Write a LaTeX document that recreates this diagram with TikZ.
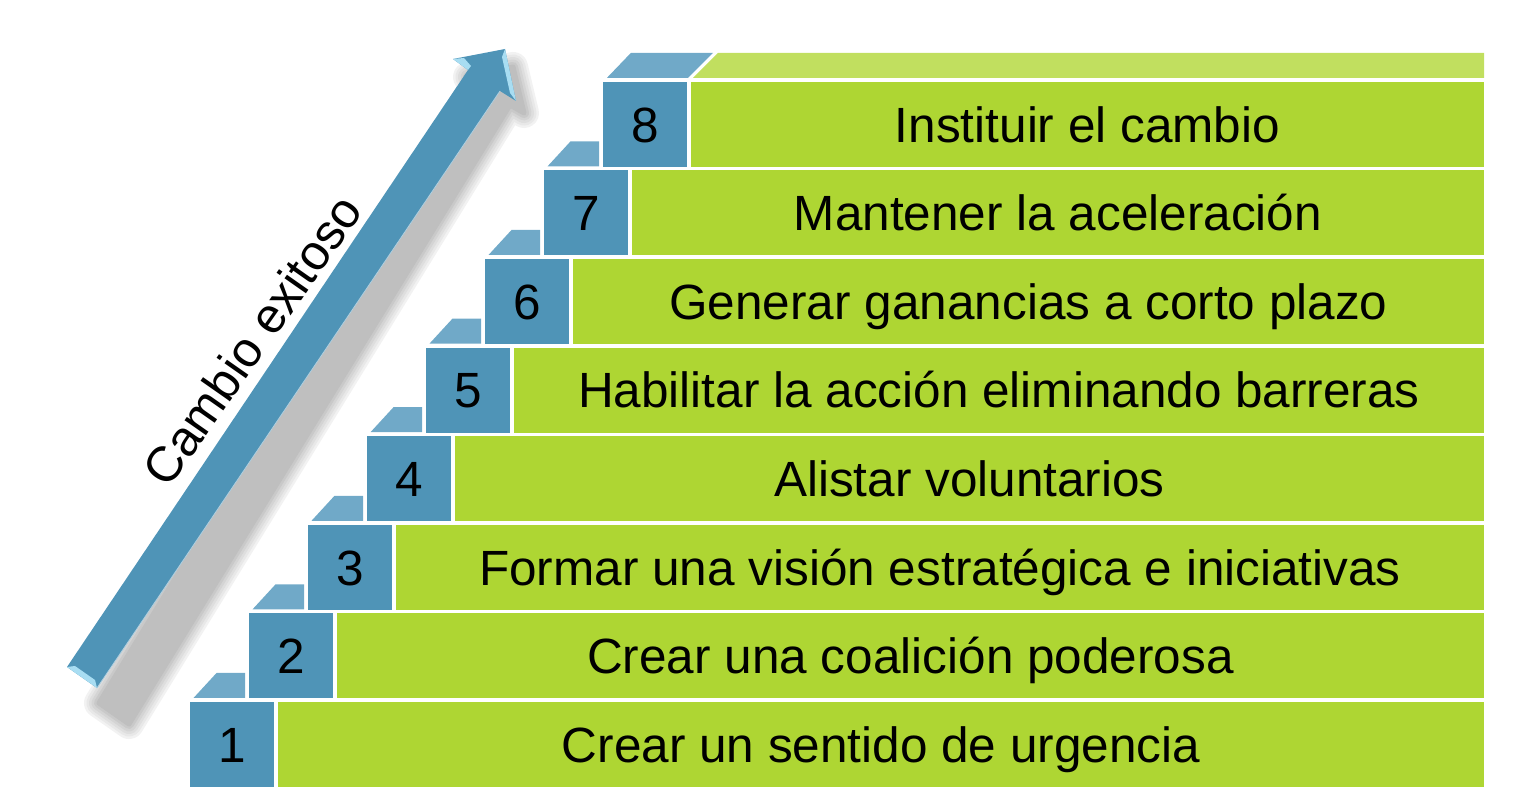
\documentclass[tikz,border=0pt]{standalone}
\usepackage{fontspec}
\setmainfont{Liberation Sans}
\definecolor{stepblue}{HTML}{4F94B7}
\definecolor{stepbluetop}{HTML}{70A9C8}
\definecolor{bargreen}{HTML}{AED633}
\definecolor{bargreentop}{HTML}{C1DF5F}
\definecolor{arrowlight}{HTML}{A8DDF2}
\tikzset{
	stepbox/.style={fill=stepblue, draw=none},
	stepface/.style={fill=stepbluetop, draw=none},
	bar/.style={fill=bargreen, draw=none},
	barface/.style={fill=bargreentop, draw=none},
	lbl/.style={inner sep=0pt, text height=35.5pt, text depth=0pt, font=\fontsize{49.5}{59}\selectfont}
}

\begin{document}
\begin{tikzpicture}[x=10pt, y=10pt]
		%%%%% START %%%%%
		\useasboundingbox (0, 0) rectangle (152.9, 80.6);
		
		% shadow of the arrow
		\foreach \w/\c in {30/5, 25/9, 20/13, 15/17, 10/21, 5/25}
			\draw[line width=\w pt, draw=black!\c, fill=black!\c, line join=round] (9.9, 10.3) -- (47.8, 72.2) -- (46.8, 72.9) -- (51.3, 73.9) -- (52.4, 69.3) -- (51.0, 70.1) -- (12.9, 8.2) -- cycle;
		
		% arrow
		\draw[fill=stepblue, draw=none] (6.7, 13.9) -- (46.8, 73.6) -- (45.3, 74.7) -- (50.5, 75.7) -- (51.6, 70.5) -- (50.0, 71.5) -- (9.7, 11.8) -- cycle;
		\draw[line width=0.8pt, color=white!55!stepblue] (9.7, 11.8) -- (50.0, 71.5);
		\fill[arrowlight] (6.7, 13.9) -- (9.7, 11.8) -- (9.5, 12.6) -- (7.5, 14.0) -- cycle;
		\fill[arrowlight] (50.5, 75.7) -- (51.6, 70.5) -- (51.0, 71.3) -- (50.2, 74.9) -- cycle;
		\fill[arrowlight] (45.3, 74.7) -- (46.8, 73.6) -- (47.1, 74.0) -- (46.4, 74.8) -- cycle;
		\node[lbl, rotate=55] (title) at (25.2, 46.6) {Cambio exitoso};
		
		% step 1
		\draw[stepface] (19.35, 10.80) -- (21.65, 13.30) -- (24.5, 13.30) -- (24.5, 10.80) -- cycle;
		\draw[stepbox] (19.0, 1.90) rectangle (27.4, 10.40);
		\draw[bar] (27.8, 1.90) rectangle (148.4, 10.40);
		\node[lbl] (n1) at (23.2, 6.15) {1};
		\node[lbl] (t1) at (88.1, 6.15) {Crear un sentido de urgencia};
		
		% step 2
		\draw[stepface] (25.25, 19.66) -- (27.55, 22.16) -- (30.4, 22.16) -- (30.4, 19.66) -- cycle;
		\draw[stepbox] (24.9, 10.76) rectangle (33.3, 19.26);
		\draw[bar] (33.7, 10.76) rectangle (148.4, 19.26);
		\node[lbl] (n2) at (29.1, 15.01) {2};
		\node[lbl] (t2) at (91.05, 15.01) {Crear una coalición poderosa};
		
		% step 3
		\draw[stepface] (31.15, 28.52) -- (33.45, 31.02) -- (36.3, 31.02) -- (36.3, 28.52) -- cycle;
		\draw[stepbox] (30.8, 19.62) rectangle (39.2, 28.12);
		\draw[bar] (39.6, 19.62) rectangle (148.4, 28.12);
		\node[lbl] (n3) at (35.0, 23.87) {3};
		\node[lbl] (t3) at (94.0, 23.87) {Formar una visión estratégica e iniciativas};
		
		% step 4
		\draw[stepface] (37.05, 37.38) -- (39.35, 39.88) -- (42.2, 39.88) -- (42.2, 37.38) -- cycle;
		\draw[stepbox] (36.7, 28.48) rectangle (45.1, 36.98);
		\draw[bar] (45.5, 28.48) rectangle (148.4, 36.98);
		\node[lbl] (n4) at (40.9, 32.73) {4};
		\node[lbl] (t4) at (96.95, 32.73) {Alistar voluntarios};
		
		% step 5
		\draw[stepface] (42.95, 46.24) -- (45.25, 48.74) -- (48.1, 48.74) -- (48.1, 46.24) -- cycle;
		\draw[stepbox] (42.6, 37.34) rectangle (51.0, 45.84);
		\draw[bar] (51.4, 37.34) rectangle (148.4, 45.84);
		\node[lbl] (n5) at (46.8, 41.59) {5};
		\node[lbl] (t5) at (99.9, 41.59) {Habilitar la acción eliminando barreras};
		
		% step 6
		\draw[stepface] (48.85, 55.10) -- (51.15, 57.60) -- (54.0, 57.60) -- (54.0, 55.10) -- cycle;
		\draw[stepbox] (48.5, 46.20) rectangle (56.9, 54.70);
		\draw[bar] (57.3, 46.20) rectangle (148.4, 54.70);
		\node[lbl] (n6) at (52.7, 50.45) {6};
		\node[lbl] (t6) at (102.85, 50.45) {Generar ganancias a corto plazo};
		
		% step 7
		\draw[stepface] (54.75, 63.96) -- (57.05, 66.46) -- (59.9, 66.46) -- (59.9, 63.96) -- cycle;
		\draw[stepbox] (54.4, 55.06) rectangle (62.8, 63.56);
		\draw[bar] (63.2, 55.06) rectangle (148.4, 63.56);
		\node[lbl] (n7) at (58.6, 59.31) {7};
		\node[lbl] (t7) at (105.8, 59.31) {Mantener la aceleración};
		
		% step 8
		\draw[stepface] (60.7, 72.82) -- (63.1, 75.32) -- (71.3, 75.32) -- (68.8, 72.82) -- cycle;
		\draw[barface] (69.3, 72.82) -- (71.8, 75.32) -- (148.4, 75.32) -- (148.4, 72.82) -- cycle;
		\draw[stepbox] (60.3, 63.92) rectangle (68.7, 72.42);
		\draw[bar] (69.1, 63.92) rectangle (148.4, 72.42);
		\node[lbl] (n8) at (64.5, 68.17) {8};
		\node[lbl] (t8) at (108.75, 68.17) {Instituir el cambio};
		
		%%%%% END %%%%%
	\end{tikzpicture}
\end{document}
